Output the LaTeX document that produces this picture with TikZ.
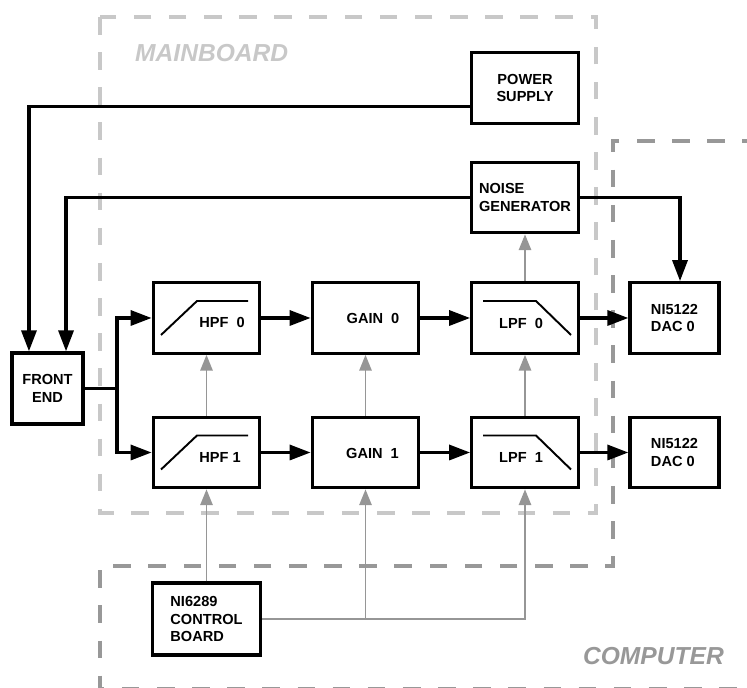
\documentclass[tikz,border=0pt]{standalone}
\usepackage{fontspec}
\setmainfont{Liberation Sans}
\usetikzlibrary{arrows.meta, calc, positioning}
\definecolor{board_gray}{RGB}{200,200,200}
\definecolor{pc_gray}{RGB}{152,152,152}
\definecolor{ctl_gray}{RGB}{150,150,150}

\begin{document}
\begin{tikzpicture}[x=0.02cm, y=-0.02cm,
    blk/.style={draw, line width=1.8pt, minimum width=2.13cm, minimum height=1.41cm, inner sep=0pt,
        font=\fontsize{8.3}{9.8}\selectfont\bfseries, align=center},
    txt/.style={font=\fontsize{8.3}{9.8}\selectfont\bfseries},
    wire/.style={line width=2pt, -{Triangle[length=12pt, width=8.5pt]}},
    ctl/.style={ctl_gray, line width=1.1pt, -{Triangle[length=9pt, width=7pt]}},
    curve/.style={line width=1.1pt},
    board/.style={line width=2.3pt, dash pattern=on 10pt off 10pt}]
    \useasboundingbox (0,0) rectangle (747,688);

    % mainboard and computer outlines
    \draw[board, board_gray] (100,17) rectangle (596,513);
    \draw[board, pc_gray] (760,141) -- (613,141) -- (613,566) -- (100,566) -- (100,689) -- (760,689);
    \node[anchor=west, text=board_gray, font=\fontsize{14}{16}\selectfont\bfseries\itshape] (mb) at (129,53) {MAINBOARD};
    \node[anchor=east, text=pc_gray, font=\fontsize{14}{16}\selectfont\bfseries\itshape] (pc) at (730,656) {COMPUTER};

    % blocks
    \node[blk] (ps) at (525,88) {POWER\\SUPPLY};
    \node[blk, align=left] (ng) at (525,197.5) {NOISE\\GENERATOR};
    \node[blk, minimum width=1.42cm, minimum height=1.42cm] (fe) at (47.5,388.5) {FRONT\\END};

    \node[blk] (hpf0) at (206.5,318) {};
    \node[blk] (gain0) at (365.5,318) {};
    \node[blk] (lpf0) at (525,318) {};
    \node[blk, align=left, minimum width=1.78cm] (dac0) at (674.5,318) {NI5122\\DAC 0};

    \node[blk] (hpf1) at (206.5,452.5) {};
    \node[blk] (gain1) at (365.5,452.5) {};
    \node[blk] (lpf1) at (525,452.5) {};
    \node[blk, align=left, minimum width=1.78cm] (dac1) at (674.5,452.5) {NI5122\\DAC 0};

    \node[blk, align=left, minimum width=2.16cm, minimum height=1.44cm] (ctrl) at (206.5,619) {NI6289\\CONTROL\\BOARD};

    % labels inside the filter and gain blocks
    \node[txt] (hpf0l) at ($(hpf0)+(15.5,4)$) {HPF~~0};
    \node[txt] (hpf1l) at ($(hpf1)+(13.5,4.5)$) {HPF 1};
    \node[txt] (gain0l) at ($(gain0)+(7.5,0)$) {GAIN~~0};
    \node[txt] (gain1l) at ($(gain1)+(7,0.5)$) {GAIN~~1};
    \node[txt] (lpf0l) at ($(lpf0)+(-4,5)$) {LPF~~0};
    \node[txt] (lpf1l) at ($(lpf1)+(-4,4.5)$) {LPF~~1};

    % filter shapes
    \draw[curve] ($(hpf0)+(-45.5,17)$) -- ++(36,-34) -- ++(51,0);
    \draw[curve] ($(hpf1)+(-45.5,17)$) -- ++(36,-34) -- ++(51,0);
    \draw[curve] ($(lpf0)+(-42,-17)$) -- ++(53,0) -- ++(35,34);
    \draw[curve] ($(lpf1)+(-42,-17)$) -- ++(53,0) -- ++(35,34);

    % supply and noise into the front end
    \coordinate (psout) at ($(ps.south west)!0.25!(ps.north west)$);
    \coordinate (fein0) at ($(fe.north west)!0.25!(fe.north east)$);
    \coordinate (fein1) at ($(fe.north west)!0.75!(fe.north east)$);
    \coordinate (dacin) at ($(dac0.north)+(5.5,0)$);
    \draw[wire] (psout) -| (fein0);
    \draw[wire] (ng.west) -| (fein1);
    \draw[wire] (ng.east) -| (dacin);

    % signal path
    \coordinate (split) at (117,388.5);
    \draw[wire, -] (fe.east) -- (split);
    \draw[wire] (split) |- (hpf0.west);
    \draw[wire] (split) |- (hpf1.west);
    \draw[wire] (hpf0) -- (gain0);
    \draw[wire] (gain0) -- (lpf0);
    \draw[wire] (lpf0) -- (dac0);
    \draw[wire] (hpf1) -- (gain1);
    \draw[wire] (gain1) -- (lpf1);
    \draw[wire] (lpf1) -- (dac1);

    % control lines
    \draw[ctl] (hpf1) -- (hpf0);
    \draw[ctl] (gain1) -- (gain0);
    \draw[ctl] (lpf1) -- (lpf0);
    \draw[ctl] (lpf0) -- (ng);
    \draw[ctl] (ctrl) -- (hpf1);
    \coordinate (tap) at (gain1.south |- ctrl.east);
    \draw[ctl] (ctrl.east) -| (lpf1.south);
    \draw[ctl] (tap) -- (gain1.south);

\end{tikzpicture}
\end{document}
